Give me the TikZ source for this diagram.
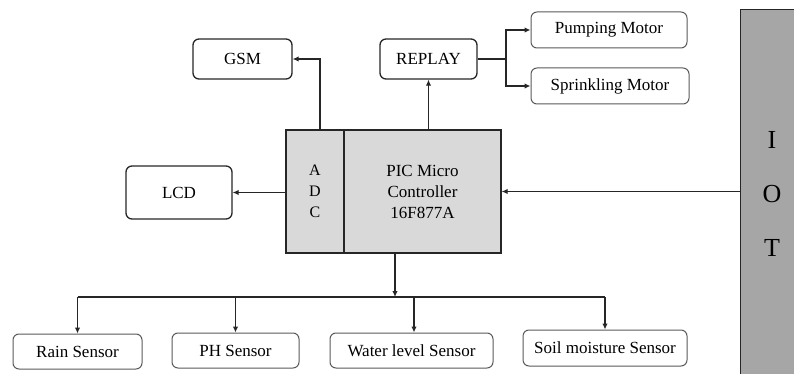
\documentclass[tikz,border=0pt]{standalone}
\usepackage{fontspec}
\setmainfont{Liberation Serif}
\usetikzlibrary{arrows.meta,calc}
\definecolor{mcgray}{HTML}{D9D9D9}
\definecolor{iotgray}{HTML}{A6A6A6}
\begin{document}
\begin{tikzpicture}[x=1pt,y=-1pt,
  box/.style={draw=black!85, line width=1.3pt, rounded corners=6pt, inner sep=0pt, font=\fontsize{17}{20}\selectfont},
  lbox/.style={draw=black!65, line width=1pt, rounded corners=6pt, inner sep=0pt, font=\fontsize{17}{20}\selectfont},
  arr/.style={line width=1.6pt, draw=black!85, -{Latex[length=6pt,width=5.5pt]}},
  ln/.style={line width=1.6pt, draw=black!85}]
\useasboundingbox (0,0) rectangle (794,374);
\clip (0,0) rectangle (794,374);
% IOT bar
\node[draw=black!85, line width=1.3pt, fill=iotgray, minimum width=60pt, minimum height=372pt, inner sep=0pt,
  anchor=north west] (iot) at (740,9) {};
\node[font=\fontsize{26}{54}\selectfont, align=center] (iottext) at (772,194) {I\\O\\T};
% main controller
\node[draw=black!85, line width=1.3pt, fill=mcgray, minimum width=58pt, minimum height=123pt, inner sep=0pt,
  align=center, font=\fontsize{16}{21}\selectfont] (adc) at (315,191.5) {A\\D\\C};
\node[draw=black!85, line width=1.3pt, fill=mcgray, minimum width=157pt, minimum height=123pt, inner sep=0pt,
  align=center, font=\fontsize{17}{21}\selectfont] (pic) at (422.5,191.5) {PIC Micro\\Controller\\16F877A};
% top boxes
\node[box, minimum width=99pt, minimum height=40pt] (gsm) at (242.5,59) {GSM};
\node[box, minimum width=97pt, minimum height=40pt] (replay) at (428.5,59) {REPLAY};
\node[lbox, minimum width=156pt, minimum height=36pt] (pump) at (609,30) {Pumping Motor};
\node[lbox, minimum width=158pt, minimum height=36pt] (sprink) at (610,86) {Sprinkling Motor};
\node[box, minimum width=106pt, minimum height=53pt] (lcd) at (179,192.5) {LCD};
% sensors
\node[lbox, minimum width=129pt, minimum height=35pt] (rain) at (77.5,351.5) {Rain Sensor};
\node[lbox, minimum width=127pt, minimum height=35pt] (ph) at (235.5,350.5) {PH Sensor};
\node[lbox, minimum width=163pt, minimum height=35pt] (water) at (411.5,350.5) {Water level Sensor};
\node[lbox, minimum width=164pt, minimum height=36pt] (soil) at (605,348) {Soil moisture Sensor};
% connectors
\coordinate (g1) at (320,130);
\draw[arr] (g1) |- (gsm.east);
\draw[arr] (replay.south |- pic.north) -- (replay.south);
\coordinate (br) at (506,59);
\draw[ln] (replay.east) -- (br);
\draw[arr] (br) |- (pump.west);
\draw[arr] (br) |- (sprink.west);
\draw[arr] (adc.west |- lcd.east) -- (lcd.east);
\draw[arr] (iot.west |- pic.east) -- (pic.east);
\coordinate (b0) at (395,253);
\coordinate (b1) at (395,297);
\draw[arr] (b0) -- (b1);
\draw[ln] (rain.north |- b1) -- (soil.north |- b1);
\draw[arr] (rain.north |- b1) -- (rain.north);
\draw[arr] (ph.north |- b1) -- (ph.north);
\draw[arr] ($(water.north |- b1)+(2.5,0)$) -- ($(water.north)+(2.5,0)$);
\draw[arr] (soil.north |- b1) -- (soil.north);
\end{tikzpicture}
\end{document}
